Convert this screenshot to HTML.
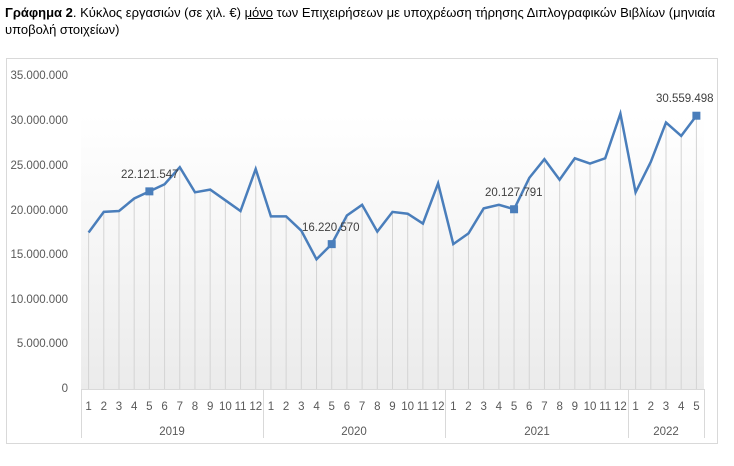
<!DOCTYPE html>
<html><head><meta charset="utf-8"><style>
body{margin:0;background:#fff;width:734px;height:466px;overflow:hidden;font-family:"Liberation Sans",sans-serif}
.t{position:absolute;left:5px;top:4px;font-size:13px;color:#000;line-height:17px;width:725px}
</style></head><body>
<div class="t"><b>Γράφημα 2</b>. Κύκλος εργασιών (σε χιλ. €) <u>μόνο</u> των Επιχειρήσεων με υποχρέωση τήρησης Διπλογραφικών Βιβλίων (μηνιαία υποβολή στοιχείων)</div>
<svg width="734" height="466" style="position:absolute;left:0;top:0" font-family="Liberation Sans, sans-serif">
<defs><linearGradient id="g" x1="0" y1="0" x2="0" y2="1"><stop offset="0" stop-color="#fff"/><stop offset="1" stop-color="#ebebeb"/></linearGradient></defs>
<rect x="6.5" y="58.5" width="711" height="385" fill="none" stroke="#d9d9d9"/>
<rect x="81" y="115" width="623" height="274" fill="url(#g)"/>
<g id="drops" stroke="#d4d4d4" stroke-width="1"></g>
<g font-size="11.5" fill="#595959" text-anchor="end">
<text x="68" y="79">35.000.000</text><text x="68" y="124">30.000.000</text><text x="68" y="169">25.000.000</text><text x="68" y="214">20.000.000</text><text x="68" y="258">15.000.000</text><text x="68" y="303">10.000.000</text><text x="68" y="347">5.000.000</text><text x="68" y="392">0</text>
</g>
<g stroke="#d9d9d9" fill="none">
<line x1="81" y1="389.5" x2="704" y2="389.5"/>
<line x1="81.5" y1="389" x2="81.5" y2="438"/><line x1="263.5" y1="389" x2="263.5" y2="438"/><line x1="445.5" y1="389" x2="445.5" y2="438"/><line x1="628.5" y1="389" x2="628.5" y2="438"/><line x1="704.5" y1="389" x2="704.5" y2="438"/>
</g>
<g id="mon" font-size="11.5" fill="#595959" text-anchor="middle"></g>
<g font-size="11.5" fill="#595959" text-anchor="middle">
<text x="172" y="435">2019</text><text x="354" y="435">2020</text><text x="537" y="435">2021</text><text x="666" y="435">2022</text>
</g>
<polyline id="ln" fill="none" stroke="#4a7ebb" stroke-width="2.5" stroke-linejoin="miter"/>
<g id="mk" fill="#4a7ebb"></g>
<g font-size="11.5" fill="#404040">
<text x="121" y="178">22.121.547</text><text x="302" y="231">16.220.570</text><text x="485" y="196">20.127.791</text><text x="656" y="102">30.559.498</text>
</g>
</svg>
<script>
var v=[17.5,19.8,19.9,21.3,22.1,22.9,24.8,22.0,22.3,21.1,19.9,24.6,19.3,19.3,17.7,14.5,16.2,19.4,20.6,17.6,19.8,19.6,18.5,23.0,16.2,17.4,20.2,20.6,20.1,23.6,25.7,23.4,25.8,25.2,25.8,30.8,22.0,25.4,29.8,28.3,30.56];
var ns="http://www.w3.org/2000/svg",pts=[],d=document.getElementById('drops'),m=document.getElementById('mon'),k=document.getElementById('mk');
var mn=[1,2,3,4,5,6,7,8,9,10,11,12];
for(var i=0;i<v.length;i++){var x=81+15.195*(i+0.5),y=389-v[i]*313/35;pts.push(x.toFixed(1)+','+y.toFixed(1));
var l=document.createElementNS(ns,'line');l.setAttribute('x1',x);l.setAttribute('x2',x);l.setAttribute('y1',y);l.setAttribute('y2',389);d.appendChild(l);
var t=document.createElementNS(ns,'text');t.setAttribute('x',x);t.setAttribute('y',410);t.textContent=(i%12)+1;m.appendChild(t);
if(i==4||i==16||i==28||i==40){var r=document.createElementNS(ns,'rect');r.setAttribute('x',x-4);r.setAttribute('y',y-4);r.setAttribute('width',8);r.setAttribute('height',8);k.appendChild(r);}}
document.getElementById('ln').setAttribute('points',pts.join(' '));
</script>
</body></html>
